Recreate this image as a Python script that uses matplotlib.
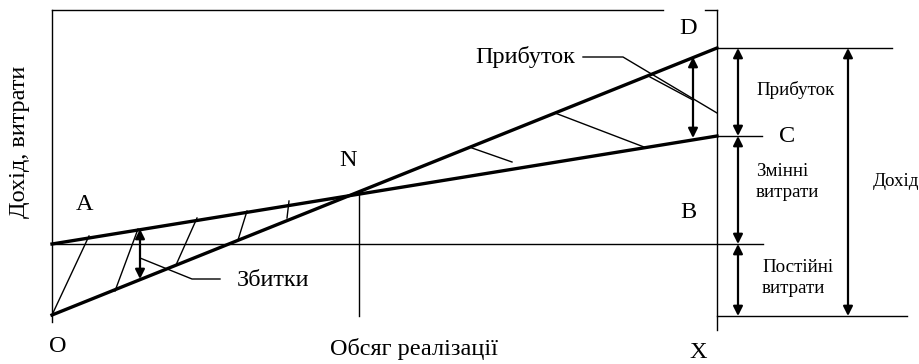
import matplotlib.pyplot as plt

plt.rcParams['font.family'] = ['Liberation Serif', 'DejaVu Serif']

# key points of the diagram (picture coordinates, y grows downward)
volume = [52, 717]          # O ... X
revenue = [315, 48]         # O -> D
costs = [244, 136]          # A -> C
fixed = 244                 # A - B level
break_even = [359, 193]     # N
base = 316

loss_hatch = [[(52, 315), (89, 236)], [(115, 291), (138, 229)], [(176, 265), (197, 218)],
              [(238, 240), (247, 211)], [(287, 218), (289, 201)]]
profit_hatch = [[(472, 148), (512, 162)], [(555, 113), (644, 147)], [(650, 77), (693, 100)]]

fig = plt.figure(figsize=(9.2, 3.64), dpi=100)
ax = fig.add_axes([0, 0, 1, 1])
ax.set_xlim(0, 920)
ax.set_ylim(364, 0)
ax.axis('off')

thin = dict(color='k', lw=1.0)
thick = dict(color='k', lw=2.4)

# frame
ax.plot([volume[0], volume[0]], [10, 322], **thin)
ax.plot([volume[0], 663], [10, 10], **thin)
ax.plot([705, volume[1]], [10, 10], **thin)
ax.plot([volume[1], volume[1]], [10, 330], **thin)

# fixed costs, revenue, total costs
ax.plot([volume[0], 763], [fixed, fixed], **thin)
ax.plot(volume, revenue, **thick)
ax.plot(volume, costs, **thick)
ax.plot([break_even[0]] * 2, [break_even[1], base], **thin)

# right side guides
ax.plot([volume[1], 892], [revenue[1]] * 2, **thin)
ax.plot([volume[1], 762], [costs[1]] * 2, **thin)
ax.plot([volume[1], 907], [base, base], **thin)

for seg in loss_hatch + profit_hatch:
    ax.plot([seg[0][0], seg[1][0]], [seg[0][1], seg[1][1]], **thin)

# leaders
ax.plot([583, 623, volume[1]], [57, 57, 113], **thin)
ax.plot([140, 192, 220], [258, 279, 279], **thin)

def arrow(x, y1, y2):
    ax.annotate('', xy=(x, y2), xytext=(x, y1),
                arrowprops=dict(arrowstyle='<|-|>', color='k', lw=1.6,
                                mutation_scale=14, shrinkA=0, shrinkB=0))

arrow(140, 229, 279)
arrow(693, 57, 138)
arrow(738, revenue[1], costs[1])
arrow(738, costs[1], fixed)
arrow(738, fixed, base)
arrow(848, revenue[1], base)

big = 17.5
small = 13.7
ax.text(85, 205, 'A', fontsize=big, ha='center', va='center')
ax.text(348, 160, 'N', fontsize=big, ha='center', va='center')
ax.text(688, 28, 'D', fontsize=big, ha='center', va='center')
ax.text(787, 136, 'C', fontsize=big, ha='center', va='center')
ax.text(688, 213, 'B', fontsize=big, ha='center', va='center')
ax.text(58, 347, 'O', fontsize=big, ha='center', va='center')
ax.text(698, 352, 'X', fontsize=big, ha='center', va='center')
ax.text(414, 349, 'Обсяг реалізації', fontsize=big, ha='center', va='center')
ax.text(525, 57, 'Прибуток', fontsize=big, ha='center', va='center')
ax.text(237, 281, 'Збитки', fontsize=big, ha='left', va='center')
ax.text(20, 142, 'Дохід, витрати', fontsize=big, ha='center', va='center', rotation=90)

ax.text(756, 90, 'Прибуток', fontsize=small, ha='left', va='center')
ax.text(756, 182, 'Змінні\nвитрати', fontsize=small, ha='left', va='center', linespacing=1.3)
ax.text(762, 278, 'Постійні\nвитрати', fontsize=small, ha='left', va='center', linespacing=1.3)
ax.text(873, 182, 'Дохід', fontsize=small, ha='left', va='center')

plt.savefig('out.png')
